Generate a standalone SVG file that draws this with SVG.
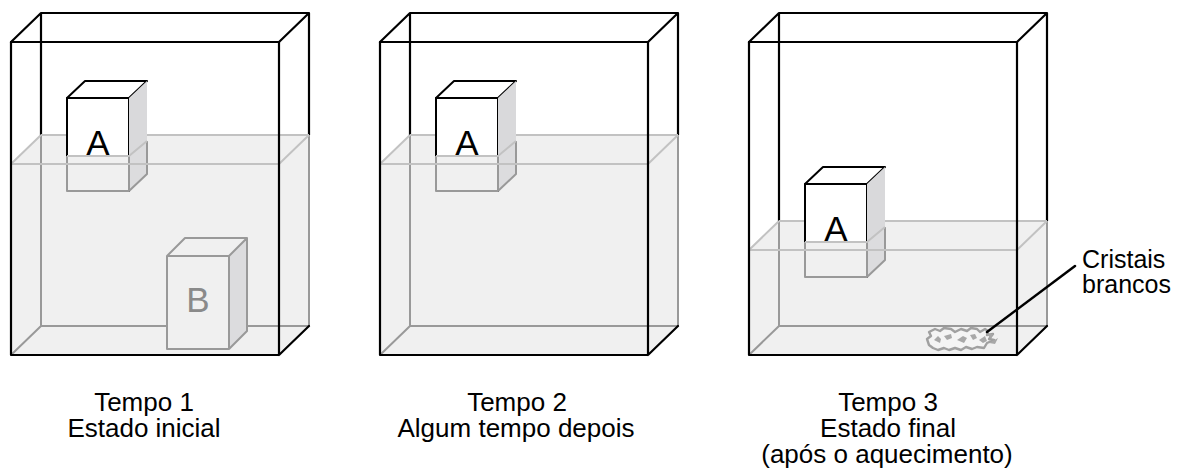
<svg xmlns="http://www.w3.org/2000/svg" width="1179" height="469" viewBox="0 0 1179 469">
<style>
.edge{fill:none;stroke:#000;stroke-width:2.2;stroke-linejoin:round;stroke-linecap:round}
.sub{fill:none;stroke:#999;stroke-width:2;stroke-linejoin:round}
.surf{fill:none;stroke:#c2c2c2;stroke-width:2;stroke-linejoin:round}
.water{fill:#f0f0f0;stroke:none}
.wface{fill:#f0f0f0;stroke:none}
.side{fill:#d9d9db;stroke:none}
.sideW{fill:#dcdcde;stroke:none}
.white{fill:#fff;stroke:#000;stroke-width:2;stroke-linejoin:round}
.lbl{font-family:"Liberation Sans",Arial,Helvetica,sans-serif;font-size:26px;fill:#000}
.lbl2{font-family:"Liberation Sans",Arial,Helvetica,sans-serif;font-size:25px;fill:#000}
.big{font-family:"Liberation Sans",Arial,Helvetica,sans-serif;font-size:35px;text-anchor:middle}
.mid{text-anchor:middle}
</style>
<rect width="1179" height="469" fill="#fff"/>

<!-- Container 1 -->
<g id="tempo1">
  <polygon class="water" points="11,164 41,135 309,135 309,326 279,355 11,355"/>
  <path class="edge" d="M11,42 L41,13 L309,13 L279,42 M41,13 V135 M309,13 V135"/>
  <path class="sub" d="M41,135 V326 H309 M309,135 V326 M11,355 L41,326"/>
  <path class="surf" d="M41,135 H309 M11,164 L41,135 M279,164 L309,135"/>
  <g id="cubeA1">
    <polygon class="white" points="67,98 85,81 147,81 129,98"/>
    <rect class="white" x="67" y="98" width="62" height="93"/>
    <polygon class="side" points="129,98 147,81 147,174 129,191" stroke="#000" stroke-width="2" stroke-linejoin="round"/>
    <polygon class="wface" points="66,156 129,156 129,192 66,192"/>
    <polygon class="sideW" points="129,156 147,141 147,174 129,191"/>
    <path class="sub" d="M67,156 V191 H129 V156 M129,191 L147,174 V141"/>
    <path class="surf" d="M67,156 H129 L147,141"/>
    <text class="big" x="98" y="155">A</text>
  </g>
  <path class="surf" d="M11,164 H279"/>
  <g id="cubeB1">
    <polygon class="wface" points="167,256 185,238 247,238 229,256"/>
    <rect class="wface" x="167" y="256" width="62" height="93"/>
    <polygon class="sideW" points="229,256 247,238 247,331 229,349"/>
    <path class="sub" d="M167,256 L185,238 H247 L229,256 Z M167,256 H229 V349 H167 Z M229,349 L247,331 V238"/>
    <text class="big" x="198" y="312" fill="#8a8a8a">B</text>
  </g>
  <path class="edge" d="M11,42 H279 V355 H11 Z M279,355 L309,326"/>
</g>

<!-- Container 2 -->
<g id="tempo2" transform="translate(369,0)">
  <polygon class="water" points="11,164 41,135 309,135 309,326 279,355 11,355"/>
  <path class="edge" d="M11,42 L41,13 L309,13 L279,42 M41,13 V135 M309,13 V135"/>
  <path class="sub" d="M41,135 V326 H309 M309,135 V326 M11,355 L41,326"/>
  <path class="surf" d="M41,135 H309 M11,164 L41,135 M279,164 L309,135"/>
  <g id="cubeA2">
    <polygon class="white" points="67,98 85,81 147,81 129,98"/>
    <rect class="white" x="67" y="98" width="62" height="93"/>
    <polygon class="side" points="129,98 147,81 147,174 129,191" stroke="#000" stroke-width="2" stroke-linejoin="round"/>
    <polygon class="wface" points="66,156 129,156 129,192 66,192"/>
    <polygon class="sideW" points="129,156 147,141 147,174 129,191"/>
    <path class="sub" d="M67,156 V191 H129 V156 M129,191 L147,174 V141"/>
    <path class="surf" d="M67,156 H129 L147,141"/>
    <text class="big" x="98" y="155">A</text>
  </g>
  <path class="surf" d="M11,164 H279"/>
  <path class="edge" d="M11,42 H279 V355 H11 Z M279,355 L309,326"/>
</g>

<!-- Container 3 -->
<g id="tempo3" transform="translate(738,0)">
  <polygon class="water" points="11,250 41,221 309,221 309,326 279,355 11,355"/>
  <path class="edge" d="M11,42 L41,13 L309,13 L279,42 M41,13 V221 M309,13 V221"/>
  <path class="sub" d="M41,221 V326 H309 M309,221 V326 M11,355 L41,326"/>
  <path class="surf" d="M41,221 H309 M11,250 L41,221 M279,250 L309,221"/>
  <g id="cubeA3">
    <polygon class="white" points="67,184 85,167 147,167 129,184"/>
    <rect class="white" x="67" y="184" width="62" height="93"/>
    <polygon class="side" points="129,184 147,167 147,260 129,277" stroke="#000" stroke-width="2" stroke-linejoin="round"/>
    <polygon class="wface" points="66,242 129,242 129,278 66,278"/>
    <polygon class="sideW" points="129,242 147,227 147,260 129,277"/>
    <path class="sub" d="M67,242 V277 H129 V242 M129,277 L147,260 V227"/>
    <path class="surf" d="M67,242 H129 L147,227"/>
    <text class="big" x="98" y="241">A</text>
  </g>
  <path class="surf" d="M11,250 H279"/>
  <g id="crystals">
    <path d="M191,345 l-2,-6 4,-3 -2,-4 6,-3 5,2 4,-3 7,1 4,3 6,-3 6,2 4,-3 6,1 3,3 5,-3 3,2 -1,4 6,-1 -4,5 5,1 -7,3 -3,5 -7,-1 -5,2 -6,-2 -5,3 -6,-2 -6,2 -5,-2 -6,2 -5,-2 z" fill="#f4f4f4" stroke="#a0a0a0" stroke-width="2.4" stroke-linejoin="round"/>
    <path d="M196,340 l4,-4 3,3 -1,4 z M206,336 l7,-2 1,4 -5,2 z M219,340 l6,-4 4,2 -3,5 z M232,335 l5,-1 2,4 -4,2 z M241,340 l6,-4 2,5 -4,2 z M249,334 l6,0 -2,5 z M251,343 l9,-5 -3,6 z" fill="#a8a8a8"/>
  </g>
  <path class="edge" d="M11,42 H279 V355 H11 Z M279,355 L309,326"/>
</g>

<!-- Connector -->
<g id="connectors">
  <line x1="987" y1="332" x2="1075" y2="266" stroke="#000" stroke-width="2.5" stroke-linecap="round"/>
</g>

<!-- Labels -->
<g id="label-tempo1">
  <text class="lbl mid" x="144" y="411">Tempo 1</text>
  <text class="lbl mid" x="144" y="437">Estado inicial</text>
</g>
<g id="label-tempo2">
  <text class="lbl mid" x="517" y="411">Tempo 2</text>
  <text class="lbl mid" x="516" y="437">Algum tempo depois</text>
</g>
<g id="label-tempo3">
  <text class="lbl mid" x="888" y="411">Tempo 3</text>
  <text class="lbl mid" x="888" y="437">Estado final</text>
  <text class="lbl mid" x="887" y="463">(após o aquecimento)</text>
</g>
<g id="label-cristais">
  <text class="lbl2" x="1082" y="268">Cristais</text>
  <text class="lbl2" x="1082" y="293">brancos</text>
</g>
</svg>
